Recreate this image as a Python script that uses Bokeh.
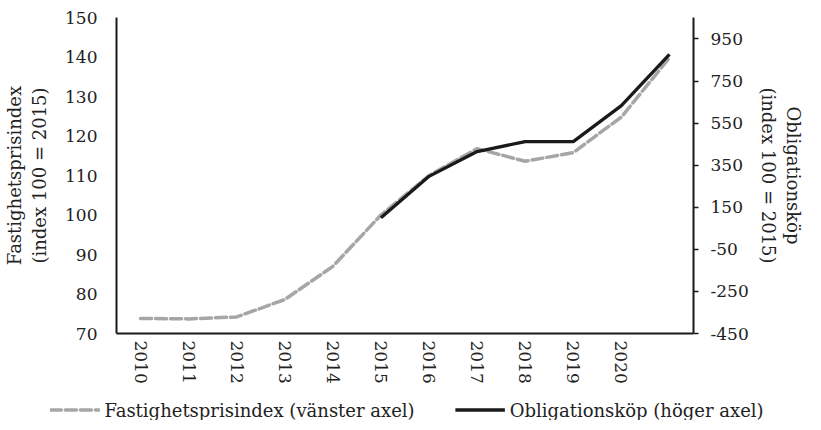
from bokeh.plotting import figure
from bokeh.models import Range1d, LinearAxis, FixedTicker, Legend, LegendItem
from bokeh.layouts import column
from bokeh.embed import file_html
from bokeh.resources import INLINE

years = [2010, 2011, 2012, 2013, 2014, 2015, 2016, 2017, 2018, 2019, 2020, 2021]
fastighet = [73.8, 73.7, 74.2, 78.6, 87.0, 100.0, 110.0, 116.8, 113.6, 115.8, 124.8, 139.8]
oblig_years = [2015, 2016, 2017, 2018, 2019, 2020, 2021]
oblig = [100, 297, 415, 462, 462, 633, 877]
year_ticks = [2010, 2011, 2012, 2013, 2014, 2015, 2016, 2017, 2018, 2019, 2020]
left_ticks = [70, 80, 90, 100, 110, 120, 130, 140, 150]
right_ticks = [-450, -250, -50, 150, 350, 550, 750, 950]

FONT = "DejaVu Serif"
FS = "17px"
FT = "18px"
TXT = "#222222"
GRAY = "#A6A6A6"
BLACK = "#1a1a1a"

p = figure(width=813, height=399, x_range=Range1d(years[0] - 0.5, years[-1] + 0.5),
           y_range=Range1d(70, 150), output_backend="svg", toolbar_location=None,
           min_border_left=108, min_border_top=17, min_border_right=120, min_border_bottom=66)
p.frame_align = False
p.extra_y_ranges = {"right": Range1d(-450, 1052)}
p.outline_line_color = None
p.xgrid.visible = False
p.ygrid.visible = False

r1 = p.line(years, fastighet, line_color=GRAY, line_width=3.5, line_dash="11 4", line_cap="round")
r2 = p.line(oblig_years, oblig, line_color=BLACK, line_width=3.3, y_range_name="right", line_join="round")

# left axis
ya = p.yaxis[0]
ya.ticker = FixedTicker(ticks=left_ticks)
ya.major_tick_in = 0
ya.major_tick_out = 0
ya.major_tick_line_color = None
ya.minor_tick_line_color = None
ya.axis_line_color = BLACK
ya.axis_line_width = 2
ya.major_label_standoff = 19
ya.major_label_text_font = FONT
ya.major_label_text_font_size = FS
ya.major_label_text_color = TXT
ya.axis_label = "Fastighetsprisindex\n(index 100 = 2015)"
ya.axis_label_text_font = FONT
ya.axis_label_text_font_size = FT
ya.axis_label_text_font_style = "normal"
ya.axis_label_text_color = TXT
ya.axis_label_text_line_height = 1.2
ya.axis_label_standoff = 12

# right axis
ra = LinearAxis(y_range_name="right", ticker=FixedTicker(ticks=right_ticks))
ra.major_label_overrides = {t: str(t) for t in right_ticks}
ra.major_tick_in = 0
ra.major_tick_out = 5
ra.major_tick_line_color = BLACK
ra.major_tick_line_width = 1.5
ra.minor_tick_line_color = None
ra.axis_line_color = BLACK
ra.axis_line_width = 2
ra.major_label_standoff = 12
ra.major_label_text_font = FONT
ra.major_label_text_font_size = FS
ra.major_label_text_color = TXT
ra.axis_label = "Obligationsköp\n(index 100 = 2015)"
ra.axis_label_text_font = FONT
ra.axis_label_text_font_size = FT
ra.axis_label_text_font_style = "normal"
ra.axis_label_text_color = TXT
ra.axis_label_text_line_height = 1.2
ra.axis_label_standoff = 6
p.add_layout(ra, "right")

# x axis
xa = p.xaxis[0]
xa.ticker = FixedTicker(ticks=year_ticks)
xa.major_label_overrides = {t: str(t) for t in year_ticks}
xa.major_label_orientation = "vertical"
xa.major_tick_in = 0
xa.major_tick_out = 0
xa.major_tick_line_color = None
xa.minor_tick_line_color = None
xa.axis_line_color = BLACK
xa.axis_line_width = 2
xa.major_label_standoff = 7
xa.major_label_text_font = FONT
xa.major_label_text_font_size = FS
xa.major_label_text_color = TXT

# legend figure (same series, drawn outside its visible range so only the legend shows)
lf = figure(width=813, height=21, x_range=p.x_range, y_range=Range1d(-1000, -999),
            output_backend="svg", toolbar_location=None,
            min_border_left=0, min_border_right=0, min_border_top=0, min_border_bottom=0)
lf.frame_align = False
lf.axis.visible = False
lf.grid.visible = False
lf.outline_line_color = None
l1 = lf.line(years, fastighet, line_color=GRAY, line_width=3.5, line_dash="11 4", line_cap="round")
l2 = lf.line(oblig_years, oblig, line_color=BLACK, line_width=3.3, line_join="round")
legend = Legend(items=[LegendItem(label="Fastighetsprisindex (vänster axel)", renderers=[l1]),
                       LegendItem(label="Obligationsköp (höger axel)", renderers=[l2])],
                orientation="horizontal", location="center",
                label_text_font=FONT, label_text_font_size=FT, label_text_color=TXT,
                glyph_width=50, glyph_height=18, label_height=18, label_standoff=5, spacing=40,
                padding=0, margin=0, border_line_color=None, background_fill_alpha=0)
lf.add_layout(legend, "center")

open("out.html", "w").write(file_html(column(p, lf, spacing=0), INLINE))
